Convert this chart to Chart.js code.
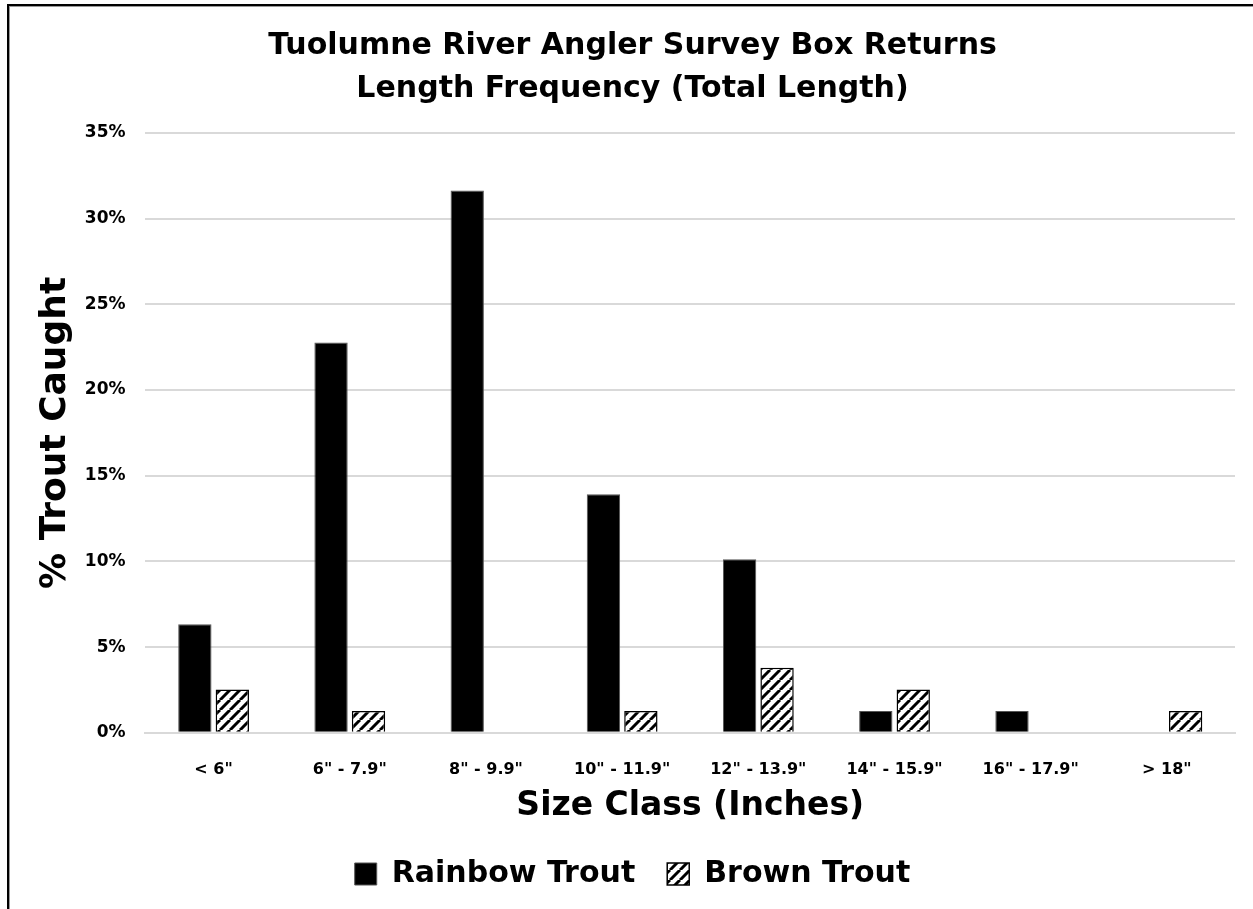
<!DOCTYPE html>
<html>
<head>
<meta charset="utf-8">
<script src="https://cdn.jsdelivr.net/npm/chart.js@4.4.1/dist/chart.umd.min.js"></script>
<style>
  html, body { margin: 0; padding: 0; background: #fff; }
  #wrap { position: relative; width: 1253px; height: 909px; }
  #frame {
    position: absolute; left: 7px; top: 4px; right: 0; bottom: 0;
    border-left: 2px solid #000; border-top: 2px solid #000;
    box-shadow: inset 1px 1px 0 #999;
    pointer-events: none;
  }
  canvas { position: absolute; left: 0; top: 0; }
</style>
</head>
<body>
<div id="wrap">
  <canvas id="chart" width="1253" height="909"></canvas>
  <div id="frame"></div>
</div>
<script>
// data (percent of trout caught)
const categories = ['< 6"', '6" - 7.9"', '8" - 9.9"', '10" - 11.9"', '12" - 13.9"', '14" - 15.9"', '16" - 17.9"', '> 18"'];
const rainbowTrout = [6.33, 22.78, 31.65, 13.92, 10.13, 1.27, 1.27, 0];
const brownTrout = [2.53, 1.27, 0, 1.27, 3.80, 2.53, 0, 1.27];
const yTicks = [0, 5, 10, 15, 20, 25, 30, 35];

const FONT = '"DejaVu Sans", sans-serif';

// diagonal hatch for brown trout
function makeHatch() {
  const size = 10;
  const c = document.createElement('canvas');
  c.width = size; c.height = size;
  const g = c.getContext('2d');
  g.fillStyle = '#fff';
  g.fillRect(0, 0, size, size);
  g.strokeStyle = '#000';
  g.lineWidth = 3;
  g.beginPath();
  for (let k = -1; k <= 1; k++) {
    g.moveTo(k * size, size);
    g.lineTo(k * size + size, 0);
  }
  g.stroke();
  return g.createPattern(c, 'repeat');
}

const ctx = document.getElementById('chart').getContext('2d');
const hatch = makeHatch();

new Chart(ctx, {
  type: 'bar',
  data: {
    labels: categories,
    datasets: [
      {
        label: 'Rainbow Trout',
        data: rainbowTrout,
        backgroundColor: '#000',
        borderColor: '#555',
        borderWidth: 1
      },
      {
        label: 'Brown Trout',
        data: brownTrout,
        backgroundColor: hatch,
        borderColor: '#000',
        borderWidth: 1.5
      }
    ]
  },
  options: {
    responsive: false,
    animation: false,
    layout: { padding: { left: 30, right: 18, top: 8, bottom: 10 } },
    datasets: {
      bar: { categoryPercentage: 0.55, barPercentage: 0.89 }
    },
    plugins: {
      title: {
        display: true,
        text: ['Tuolumne River Angler Survey Box Returns', 'Length Frequency (Total Length)'],
        color: '#000',
        font: { family: FONT, size: 30, weight: 'bold', lineHeight: 1.45 },
        padding: { top: 16, bottom: 22 }
      },
      legend: {
        position: 'bottom',
        labels: {
          color: '#000',
          font: { family: FONT, size: 30, weight: 'bold' },
          boxWidth: 22,
          boxHeight: 22,
          padding: 32
        }
      },
      tooltip: { enabled: false }
    },
    scales: {
      x: {
        grid: { display: false },
        border: { color: '#d9d9d9', width: 2 },
        ticks: { color: '#000', font: { family: FONT, size: 16, weight: 'bold' }, padding: 19 },
        title: {
          display: true,
          text: 'Size Class (Inches)',
          color: '#000',
          font: { family: FONT, size: 33, weight: 'bold', lineHeight: 1.0 },
          padding: { top: -8, bottom: 4 }
        }
      },
      y: {
        min: 0,
        max: 35,
        afterBuildTicks: axis => { axis.ticks = yTicks.map(v => ({ value: v })); },
        grid: { color: '#d9d9d9', lineWidth: 2, drawTicks: false },
        border: { display: false },
        ticks: {
          color: '#000',
          font: { family: FONT, size: 17, weight: 'bold' },
          padding: 20,
          callback: v => v + '%'
        },
        title: {
          display: true,
          text: '% Trout Caught',
          color: '#000',
          font: { family: FONT, size: 36, weight: 'bold', lineHeight: 0.8 },
          padding: { top: 11, bottom: -5 }
        }
      }
    }
  }
});
</script>
</body>
</html>
